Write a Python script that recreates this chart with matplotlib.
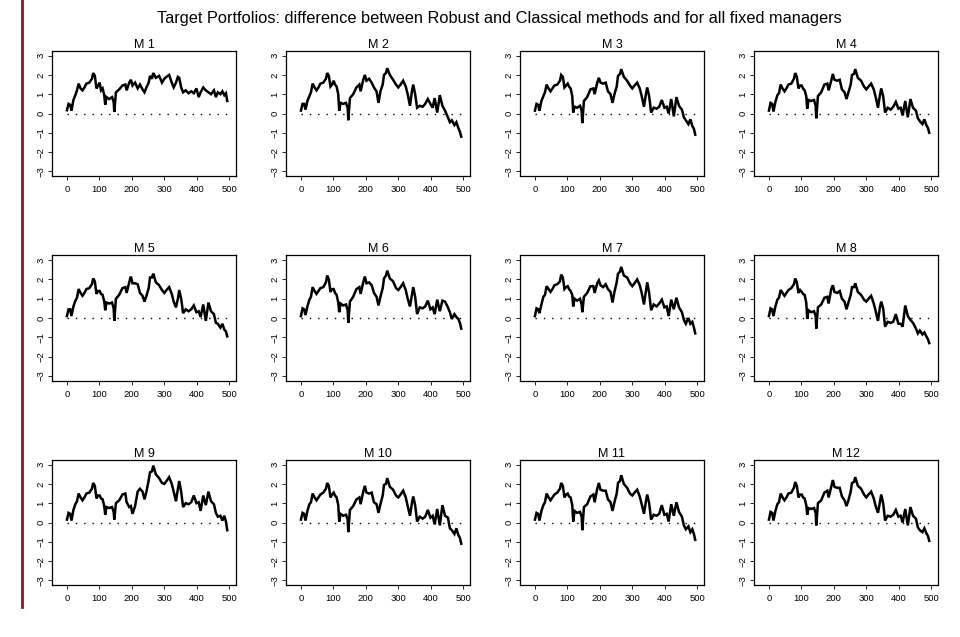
import matplotlib
matplotlib.use("Agg")
import matplotlib.pyplot as plt
from matplotlib.lines import Line2D
import numpy as np

plt.rcParams['font.family'] = ['Liberation Sans', 'DejaVu Sans']

# sample positions shared by all panels
days = [0, 5, 10, 14, 20, 26, 31, 36, 42, 48,
        54, 60, 69, 77, 81, 86, 91, 96, 101, 105,
        110, 115, 118, 122, 130, 139, 144, 146, 151, 161,
        171, 180, 184, 192, 197, 202, 210, 218, 225, 233,
        239, 245, 252, 256, 262, 266, 274, 284, 293, 300,
        307, 315, 323, 329, 336, 342, 346, 352, 358, 366,
        375, 383, 391, 399, 406, 412, 420, 428, 436, 444,
        453, 459, 465, 473, 479, 485, 490, 494]

m1 = [0.17, 0.5, 0.45, 0.15, 0.7, 0.95, 1.2, 1.55, 1.3, 1.2,
      1.35, 1.55, 1.6, 1.8, 2.1, 1.95, 1.3, 1.45, 1.6, 1.2,
      1.3, 0.95, 0.45, 0.85, 0.75, 0.85, 0.6, 0.08, 1.1, 1.25,
      1.45, 1.5, 1.2, 1.6, 1.75, 1.45, 1.6, 1.3, 1.5, 1.25,
      1.1, 1.35, 1.6, 1.95, 1.8, 2.1, 1.85, 1.95, 1.6, 1.8,
      1.9, 2.0, 1.6, 1.35, 1.6, 1.9, 1.85, 1.35, 1.1, 1.2,
      1.05, 1.15, 1.05, 1.3, 0.85, 1.1, 1.35, 1.2, 1.1, 1.0,
      1.2, 0.85, 1.1, 1.0, 1.15, 0.95, 1.05, 0.65]
m2 = [0.15, 0.5, 0.5, 0.2, 0.65, 0.9, 1.1, 1.55, 1.35, 1.2,
      1.35, 1.55, 1.6, 1.8, 2.1, 1.95, 1.4, 1.5, 1.7, 1.5,
      1.4, 1.0, 0.15, 0.55, 0.5, 0.55, 0.3, -0.35, 0.8, 1.0,
      1.35, 1.5, 1.15, 1.75, 2.0, 1.7, 1.8, 1.6, 1.35, 1.15,
      0.55, 1.15, 1.5, 2.0, 2.1, 2.35, 2.0, 1.75, 1.5, 1.35,
      1.5, 1.7, 1.4, 1.0, 0.4, 1.15, 1.5, 1.0, 0.3, 0.4,
      0.35, 0.5, 0.75, 0.5, 0.3, 0.8, 0.05, 0.95, 0.4, 0.15,
      -0.2, -0.45, -0.35, -0.6, -0.45, -0.75, -0.95, -1.2]
m3 = [0.15, 0.5, 0.45, 0.15, 0.65, 0.9, 1.1, 1.5, 1.3, 1.15,
      1.3, 1.45, 1.5, 1.7, 2.0, 1.9, 1.35, 1.45, 1.55, 1.4,
      1.3, 0.9, 0.05, 0.35, 0.3, 0.4, 0.15, -0.5, 0.65, 0.85,
      1.25, 1.3, 1.0, 1.6, 1.85, 1.6, 1.55, 1.6, 1.15, 1.0,
      0.55, 1.0, 1.4, 1.95, 2.05, 2.3, 1.9, 1.7, 1.45, 1.3,
      1.45, 1.6, 1.3, 0.9, 0.35, 1.0, 1.35, 0.9, 0.05, 0.3,
      0.25, 0.35, 0.7, 0.3, 0.35, 0.0, 0.75, -0.15, 0.85, 0.4,
      0.2, -0.2, -0.35, -0.55, -0.3, -0.65, -0.8, -1.1]
m4 = [0.15, 0.55, 0.5, 0.1, 0.6, 0.95, 1.05, 1.5, 1.3, 1.15,
      1.3, 1.5, 1.55, 1.8, 2.1, 1.9, 1.3, 1.45, 1.45, 1.3,
      1.2, 0.9, 0.25, 0.7, 0.65, 0.7, 0.4, -0.25, 0.9, 1.1,
      1.5, 1.55, 1.2, 1.7, 2.05, 1.75, 1.7, 1.75, 1.25, 1.1,
      0.75, 1.1, 1.5, 2.0, 2.05, 2.3, 1.85, 1.7, 1.4, 1.25,
      1.4, 1.55, 1.25, 0.85, 0.3, 0.95, 1.3, 0.9, 0.05, 0.3,
      0.2, 0.35, 0.6, 0.25, 0.3, -0.1, 0.65, -0.2, 0.75, 0.3,
      0.15, -0.25, -0.4, -0.55, -0.3, -0.6, -0.75, -1.0]
m5 = [0.1, 0.45, 0.45, 0.1, 0.6, 0.9, 1.05, 1.5, 1.3, 1.15,
      1.3, 1.5, 1.55, 1.75, 2.05, 1.9, 1.25, 1.4, 1.4, 1.25,
      1.2, 0.85, 0.4, 0.8, 0.75, 0.8, 0.5, -0.15, 1.0, 1.2,
      1.55, 1.6, 1.3, 1.85, 2.15, 1.8, 1.8, 1.75, 1.3, 1.15,
      0.85, 1.15, 1.55, 2.1, 2.1, 2.3, 1.85, 1.7, 1.45, 1.3,
      1.45, 1.6, 1.25, 0.85, 0.55, 1.0, 1.45, 1.0, 0.25, 0.45,
      0.35, 0.45, 0.65, 0.3, 0.35, 0.05, 0.7, -0.15, 0.8, 0.35,
      0.2, -0.25, -0.3, -0.5, -0.3, -0.6, -0.7, -0.95]
m6 = [0.1, 0.5, 0.45, 0.15, 0.6, 0.95, 1.1, 1.6, 1.4, 1.25,
      1.4, 1.55, 1.6, 1.85, 2.2, 2.0, 1.35, 1.5, 1.5, 1.3,
      1.2, 0.8, 0.3, 0.75, 0.65, 0.7, 0.4, -0.25, 0.85, 1.1,
      1.5, 1.6, 1.25, 1.85, 2.15, 1.8, 1.85, 1.7, 1.3, 1.1,
      0.65, 1.1, 1.55, 2.05, 2.2, 2.45, 2.05, 1.9, 1.55, 1.45,
      1.6, 1.8, 1.45, 1.0, 0.6, 1.2, 1.6, 1.1, 0.2, 0.55,
      0.5, 0.6, 0.9, 0.45, 0.55, 0.2, 0.95, 0.35, 0.9, 0.85,
      0.55, 0.3, -0.05, 0.2, 0.05, -0.05, -0.25, -0.55]
m7 = [0.1, 0.5, 0.45, 0.25, 0.7, 1.1, 1.2, 1.65, 1.5, 1.35,
      1.5, 1.7, 1.75, 1.9, 2.25, 2.1, 1.5, 1.6, 1.65, 1.5,
      1.4, 1.2, 0.6, 1.0, 0.9, 1.0, 0.7, 0.3, 1.1, 1.3,
      1.65, 1.65, 1.3, 1.8, 1.95, 1.7, 1.6, 1.75, 1.5, 1.35,
      0.8, 1.35, 1.85, 2.3, 2.4, 2.65, 2.2, 2.1, 1.8, 1.65,
      1.8, 2.0, 1.7, 1.3, 0.7, 1.4, 1.85, 1.3, 0.4, 0.7,
      0.6, 0.75, 0.95, 0.55, 0.6, 0.1, 0.95, 0.45, 1.05, 0.55,
      0.3, -0.1, -0.3, 0.0, -0.3, -0.2, -0.5, -0.8]
m8 = [0.1, 0.5, 0.45, 0.1, 0.6, 0.95, 1.05, 1.45, 1.3, 1.15,
      1.3, 1.45, 1.55, 1.75, 2.05, 1.85, 1.3, 1.45, 1.35, 1.25,
      1.2, 0.8, -0.05, 0.4, 0.3, 0.35, 0.1, -0.55, 0.55, 0.7,
      1.05, 1.1, 0.75, 1.5, 1.7, 1.35, 1.3, 1.4, 1.0, 0.85,
      0.45, 0.8, 1.2, 1.6, 1.6, 1.8, 1.35, 1.2, 0.95, 0.85,
      1.0, 1.15, 0.75, 0.35, -0.15, 0.55, 0.85, 0.5, -0.45, -0.2,
      -0.25, -0.2, 0.2, -0.3, -0.3, -0.45, 0.65, 0.1, -0.1, -0.25,
      -0.55, -0.8, -0.65, -0.85, -0.75, -0.95, -1.1, -1.3]
m9 = [0.15, 0.5, 0.45, 0.1, 0.65, 0.95, 1.1, 1.5, 1.3, 1.15,
      1.3, 1.5, 1.55, 1.75, 2.05, 1.9, 1.25, 1.4, 1.4, 1.25,
      1.2, 0.85, 0.4, 0.8, 0.75, 0.8, 0.55, 0.15, 1.0, 1.15,
      1.45, 1.5, 1.05, 0.8, 0.85, 0.45, 0.85, 1.6, 1.75, 1.6,
      1.2, 1.6, 2.2, 2.6, 2.65, 2.95, 2.5, 2.3, 2.05, 2.0,
      2.15, 2.35, 2.0, 1.6, 1.1, 1.75, 2.15, 1.6, 0.8, 1.0,
      0.95, 1.05, 1.4, 1.0, 1.05, 0.6, 1.4, 0.9, 1.6, 1.1,
      0.95, 0.5, 0.3, 0.35, 0.1, 0.35, 0.05, -0.4]
m10 = [0.15, 0.5, 0.45, 0.1, 0.6, 0.95, 1.05, 1.5, 1.3, 1.15,
       1.3, 1.45, 1.55, 1.75, 2.05, 1.9, 1.3, 1.45, 1.55, 1.4,
       1.3, 0.9, 0.05, 0.45, 0.35, 0.4, 0.15, -0.5, 0.65, 0.85,
       1.2, 1.3, 0.95, 1.6, 1.9, 1.55, 1.5, 1.55, 1.05, 0.95,
       0.5, 0.95, 1.4, 1.95, 2.0, 2.3, 1.85, 1.7, 1.4, 1.3,
       1.45, 1.65, 1.3, 0.85, 0.35, 1.0, 1.35, 0.9, 0.05, 0.3,
       0.2, 0.3, 0.65, 0.25, 0.35, -0.1, 0.7, -0.15, 0.9, 0.35,
       0.25, -0.3, -0.4, -0.6, -0.3, -0.65, -0.8, -1.1]
m11 = [0.15, 0.5, 0.45, 0.1, 0.6, 0.9, 1.05, 1.5, 1.3, 1.15,
       1.3, 1.45, 1.55, 1.75, 2.05, 1.9, 1.3, 1.45, 1.5, 1.35,
       1.3, 0.9, 0.05, 0.6, 0.5, 0.55, 0.3, -0.4, 0.8, 0.95,
       1.35, 1.45, 1.05, 1.75, 2.05, 1.7, 1.65, 1.65, 1.2, 1.05,
       0.6, 1.05, 1.5, 2.05, 2.15, 2.45, 2.0, 1.8, 1.5, 1.4,
       1.55, 1.7, 1.35, 0.95, 0.45, 1.1, 1.45, 1.0, 0.15, 0.4,
       0.35, 0.45, 0.9, 0.4, 0.45, 0.05, 0.95, 0.35, 1.05, 0.55,
       0.3, -0.15, -0.35, -0.2, -0.5, -0.35, -0.6, -0.9]
m12 = [0.15, 0.55, 0.5, 0.1, 0.6, 0.95, 1.05, 1.5, 1.3, 1.15,
       1.3, 1.5, 1.55, 1.8, 2.1, 1.9, 1.3, 1.45, 1.45, 1.3,
       1.25, 0.9, 0.4, 0.75, 0.7, 0.75, 0.5, -0.15, 1.0, 1.15,
       1.55, 1.65, 1.3, 1.85, 2.2, 1.85, 1.8, 1.8, 1.35, 1.15,
       0.85, 1.15, 1.6, 2.05, 2.1, 2.35, 1.9, 1.75, 1.45, 1.3,
       1.45, 1.6, 1.25, 0.85, 0.5, 1.05, 1.45, 1.0, 0.1, 0.35,
       0.3, 0.4, 0.65, 0.3, 0.35, 0.0, 0.7, -0.15, 0.8, 0.35,
       0.2, -0.25, -0.4, -0.5, -0.3, -0.55, -0.7, -0.95]

series = [m1, m2, m3, m4, m5, m6, m7, m8, m9, m10, m11, m12]
names = ["M %d" % (i + 1) for i in range(12)]
xticks = [0, 100, 200, 300, 400, 500]
yticks = [-3, -2, -1, 0, 1, 2, 3]

W, H = 960, 637
fig = plt.figure(figsize=(W / 100, H / 100), dpi=100)

col_left = [52, 286, 520, 754]
row_top = [51, 255.5, 460]
box_w, box_h = 184, 125

for i, (vals, name) in enumerate(zip(series, names)):
	r, c = divmod(i, 4)
	ax = fig.add_axes([col_left[c] / W, 1 - (row_top[r] + box_h) / H, box_w / W, box_h / H])
	ax.plot(days, vals, color='black', lw=1.8, solid_joinstyle='miter')
	ax.plot([0, 500], [0, 0], color='black', lw=1.0, dashes=(1, 5))
	ax.set_xlim(-46, 521)
	ax.set_ylim(-3.24, 3.24)
	ax.set_xticks(xticks)
	ax.set_yticks(yticks)
	ax.tick_params(labelsize=6.8, length=3, width=0.6, direction='out', pad=3.5)
	ax.tick_params(axis='y', pad=1.5)
	for lab in ax.get_yticklabels():
		lab.set_rotation(90)
		lab.set_va('center')
	for sp in ax.spines.values():
		sp.set_linewidth(0.9)
	ax.set_title(name, fontsize=9, pad=-2)

fig.text(0.52, 1 - 18 / H, "Target Portfolios: difference between Robust and Classical methods and for all fixed managers",
	ha='center', va='center', fontsize=11.8)

# red margin rule on the left
fig.add_artist(Line2D([22 / W, 22 / W], [1 - 607 / H, 1.0], color='#8b1a1a', lw=2))

fig.savefig("out.png", dpi=100)
